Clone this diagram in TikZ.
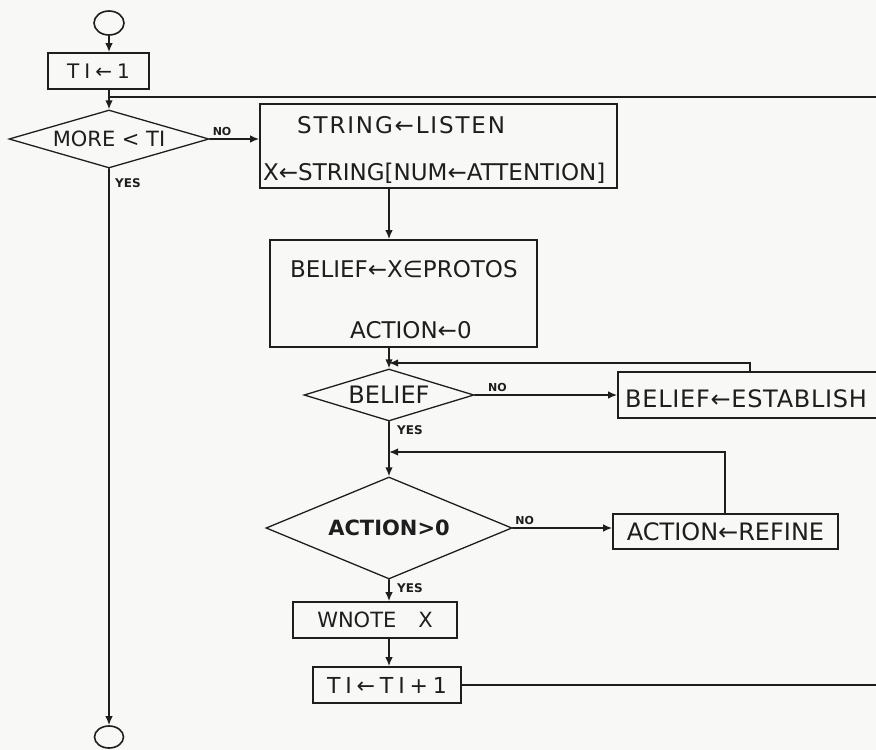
\documentclass[tikz,border=0pt]{standalone}
\usepackage{fontspec}
\setmainfont{DejaVu Sans}
\usetikzlibrary{shapes.geometric,arrows.meta}
\definecolor{ink}{HTML}{1E1E1E}
\definecolor{paper}{HTML}{F8F8F6}
\begin{document}
\begin{tikzpicture}[x=1pt,y=-1pt,
  ln/.style={line width=1.6pt, draw=ink, line cap=round},
  arr/.style={ln, -{Latex[length=9pt,width=7.5pt]}},
  box/.style={draw=ink, line width=1.6pt, inner sep=0pt, text=ink},
  dia/.style={draw=ink, diamond, line width=1.3pt, inner sep=0pt, text=ink},
  term/.style={draw=ink, ellipse, line width=1.6pt, inner sep=0pt},
  txt/.style={inner sep=0pt, text=ink, font=\fontsize{23}{26}\selectfont},
  lab/.style={inner sep=0pt, text=ink, font=\bfseries\fontsize{11}{12}\selectfont},
  yes/.style={inner sep=0pt, text=ink, font=\bfseries\fontsize{12}{13}\selectfont},
]
\useasboundingbox (0,0) rectangle (876,750);
\fill[paper] (0,0) rectangle (876,750);

% nodes
\node[term, minimum width=30pt, minimum height=24pt] (start) at (109,23) {};
\node[box, minimum width=101pt, minimum height=36pt,
      font={\fontsize{20}{22}\selectfont\addfontfeature{LetterSpace=25}}] (ti1) at (98.5,71) {TI←1};
\node[dia, minimum width=200pt, minimum height=58pt, shape aspect=3.45,
      font=\fontsize{21}{24}\selectfont] (more) at (109,139) {MORE < TI};
\node[box, minimum width=357pt, minimum height=84pt] (str) at (438.5,146) {};
\node[txt, anchor=base west, font={\fontsize{23}{26}\selectfont\addfontfeature{LetterSpace=8}}] (strA) at (297,133) {STRING←LISTEN};
\node[txt, anchor=base west] (strB) at (263,180) {X←STRING[NUM←ATTENTION]};
\node[box, minimum width=267pt, minimum height=107pt] (bx) at (403.5,293.5) {};
\node[txt, anchor=base west] (bxA) at (290,277) {BELIEF←X∈PROTOS};
\node[txt, anchor=base west] (bxB) at (350,338) {ACTION←0};
\node[dia, minimum width=170pt, minimum height=52pt, shape aspect=3.27,
      font=\fontsize{24}{26}\selectfont] (bel) at (389,395) {BELIEF};
\node[box, minimum width=270pt, minimum height=46pt] (est) at (753,395) {};
\node[inner sep=0pt, text=ink, font={\fontsize{24}{26}\selectfont\addfontfeature{LetterSpace=3}}, anchor=base west] (estT) at (625,407) {BELIEF←ESTABLISH};
\node[dia, minimum width=246pt, minimum height=102pt, shape aspect=2.41,
      font=\bfseries\fontsize{21}{24}\selectfont] (act) at (389,528) {ACTION>0};
\node[box, minimum width=225pt, minimum height=35pt,
      font=\fontsize{24}{26}\selectfont] (ref) at (725.5,531.5) {ACTION←REFINE};
\node[box, minimum width=164pt, minimum height=36pt,
      font=\fontsize{21}{23}\selectfont] (wn) at (375,620) {WNOTE\hspace{22pt}X};
\node[box, minimum width=148pt, minimum height=36pt,
      font={\fontsize{22}{24}\selectfont\addfontfeature{LetterSpace=22}}] (tinc) at (387,685) {TI←TI+1};
\node[term, minimum width=29pt, minimum height=22pt] (endc) at (109,737) {};

% coordinates
\coordinate (rtop) at (876,97);
\coordinate (rbot) at (876,686);
\coordinate (col) at (389,0);
\coordinate (j1) at (389,363);
\coordinate (k1) at (750,363);
\coordinate (j2) at (389,452);
\coordinate (k2) at (725,452);

% connectors
\draw[arr] (start) -- (start |- ti1.north);
\draw[arr] (ti1.south -| more.north) -- (more.north);
\draw[ln] (rtop) -- (rtop -| more.north);
\draw[arr] (more.east) -- (more.east -| str.west)
  node[lab, pos=0.25, above=3pt] {NO};
\draw[arr] (more.south) -- (endc.north);
\node[yes, anchor=north west] at ([xshift=6pt,yshift=-10pt]more.south) {YES};
\draw[arr] (str.south -| col) -- (bx.north -| col);
\draw[arr] (bx.south -| col) -- (bel.north);
\draw[arr] (est.north -| k1) -- (k1) -- (j1);
\draw[arr] (bel.east) -- (bel.east -| est.west)
  node[lab, pos=0.16, above=3pt] {NO};
\node[yes, anchor=north west] at ([xshift=8pt,yshift=-4pt]bel.south) {YES};
\draw[arr] (bel.south) -- (act.north);
\draw[arr] (ref.north -| k2) -- (k2) -- (j2);
\draw[arr] (act.east) -- (act.east -| ref.west)
  node[lab, pos=0.12, above=3pt] {NO};
\node[yes, anchor=north west] at ([xshift=8pt,yshift=-4pt]act.south) {YES};
\draw[arr] (act.south) -- (wn.north -| act.south);
\draw[arr] (wn.south -| act.south) -- (tinc.north -| act.south);
\draw[ln] (tinc.east) -- (tinc.east -| rbot);
\end{tikzpicture}
\end{document}
